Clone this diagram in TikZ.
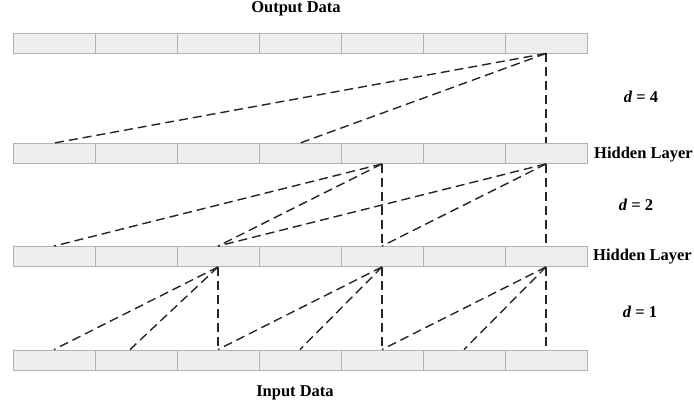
\documentclass[tikz,border=0pt]{standalone}
\usepackage{fontspec}
\setmainfont{Liberation Serif}
\begin{document}
\begin{tikzpicture}[x=1pt, y=-1pt,
    cell/.style={draw=gray!60, fill=gray!13, line width=0.9pt, inner sep=0pt, minimum width=82pt, minimum height=20pt},
    link/.style={dash pattern=on 9pt off 5pt, line width=1.4pt, black!85},
    lbl/.style={font=\fontsize{16.5}{18}\selectfont\bfseries, inner sep=0pt}]
\useasboundingbox (0,0) rectangle (694,410);

% the four rows of cells
\foreach \i in {1,...,7} {
	\node[cell] at ({54+82*(\i-1)}, 43) (out\i) {};
	\node[cell] at ({54+82*(\i-1)}, 153.5) (hidB\i) {};
	\node[cell] at ({54+82*(\i-1)}, 256.5) (hidA\i) {};
	\node[cell] at ({54+82*(\i-1)}, 360) (in\i) {};
}

\node[lbl] at (296, 9) (outlbl) {Output Data};
\node[lbl] at (295, 393) (inlbl) {Input Data};
\node[lbl, anchor=west] at (594, 155) (hidBlbl) {Hidden Layer};
\node[lbl, anchor=west] at (593, 257) (hidAlbl) {Hidden Layer};
\node[lbl] at (641, 97) (d4) {\textit{d} = 4};
\node[lbl] at (636, 205) (d2) {\textit{d} = 2};
\node[lbl] at (640, 312) (d1) {\textit{d} = 1};

% d = 1
\path[link]
(hidA3.south) edge (in1.north)
(hidA3.south) edge ([xshift=-6pt]in2.north)
(hidA3.south) edge (in3.north)
(hidA5.south) edge (in3.north)
(hidA5.south) edge (in4.north)
(hidA5.south) edge (in5.north)
(hidA7.south) edge (in5.north)
(hidA7.south) edge (in6.north)
(hidA7.south) edge (in7.north);

% d = 2
\path[link]
(hidB5.south) edge (hidA1.north)
(hidB5.south) edge (hidA3.north)
(hidB5.south) edge (hidA5.north)
(hidB7.south) edge (hidA3.north)
(hidB7.south) edge (hidA5.north)
(hidB7.south) edge (hidA7.north);

% d = 4
\path[link]
(out7.south) edge (hidB1.north)
(out7.south) edge (hidB4.north)
(out7.south) edge (hidB7.north);
\end{tikzpicture}
\end{document}
